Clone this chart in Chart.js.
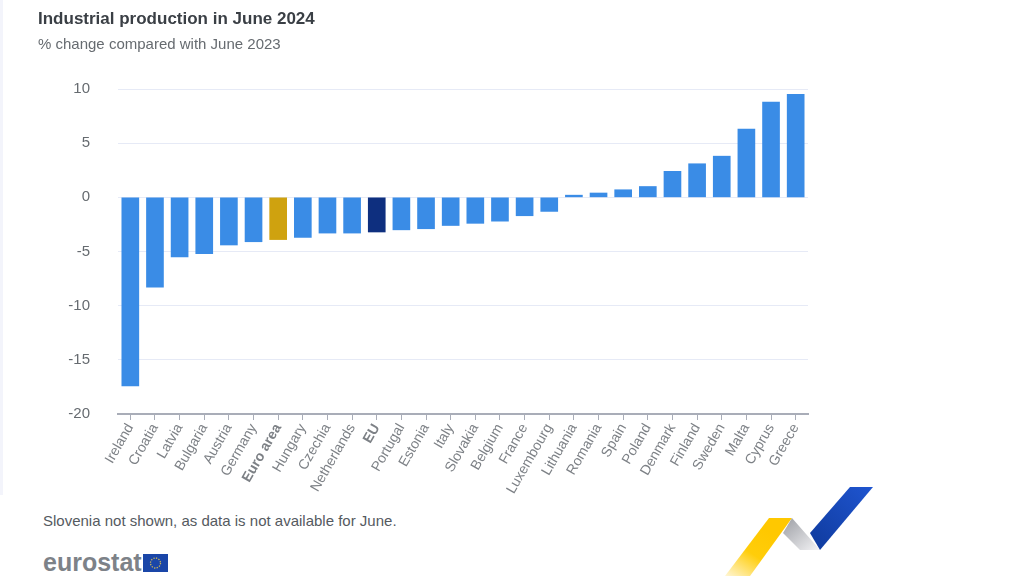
<!DOCTYPE html>
<html>
<head>
<meta charset="utf-8">
<title>Industrial production in June 2024</title>
<script src="https://cdn.jsdelivr.net/npm/chart.js@4"></script>
<style>
  html, body { margin: 0; padding: 0; background: #fff; }
  body { width: 1024px; height: 576px; position: relative; overflow: hidden; font-family: "Liberation Sans", Arial, sans-serif; }
  #chartWrap { position: absolute; left: 0; top: 0; width: 1024px; height: 500px; }
  .txt { position: absolute; white-space: nowrap; }
  #title { left: 38px; top: 9px; font-size: 17px; font-weight: bold; color: #3a3f45; }
  #subtitle { left: 38px; top: 35px; font-size: 15px; color: #666b70; }
  #note { left: 43px; top: 512px; font-size: 15px; color: #555a5f; }
  #brand { left: 43px; top: 548px; font-size: 25px; font-weight: bold; color: #7d8288; }
  #edge { position: absolute; left: 0; top: 0; width: 3px; height: 495px; background: #f3f4fb; }
  #flag { position: absolute; left: 143px; top: 554px; }
  #logo { position: absolute; left: 720px; top: 480px; }
</style>
</head>
<body>
<div id="edge"></div>
<div id="chartWrap"><canvas id="chartProduction"></canvas></div>
<div class="txt" id="title">Industrial production in June 2024</div>
<div class="txt" id="subtitle">% change compared with June 2023</div>
<div class="txt" id="note">Slovenia not shown, as data is not available for June.</div>
<div class="txt" id="brand">eurostat</div>
<svg id="flag" width="25" height="18" viewBox="0 0 25 18">
  <rect width="25" height="18" fill="#1a46a8"/>
  <circle cx="12.5" cy="9" r="5" fill="none" stroke="#c9b45a" stroke-width="1.3" stroke-dasharray="1.3 1.3"/>
</svg>
<svg id="logo" width="160" height="96" viewBox="0 0 160 96">
  <defs>
    <linearGradient id="gy" x1="0" y1="1" x2="0.6" y2="0.2">
      <stop offset="0" stop-color="#fff6d6"/><stop offset="0.55" stop-color="#ffcd0a"/><stop offset="1" stop-color="#ffc800"/>
    </linearGradient>
    <linearGradient id="gg" x1="0" y1="0" x2="1" y2="1">
      <stop offset="0" stop-color="#9c9ea4"/><stop offset="1" stop-color="#f4f4f6"/>
    </linearGradient>
    <linearGradient id="gb" x1="0" y1="1" x2="1" y2="0">
      <stop offset="0" stop-color="#0f3a9c"/><stop offset="1" stop-color="#1f55d0"/>
    </linearGradient>
  </defs>
  <polygon points="5,96 49,38 72,38 30,96" fill="url(#gy)"/>
  <polygon points="72,38 100,70 80,70 63,53" fill="url(#gg)"/>
  <polygon points="90,53 130,7 153,7 100,70" fill="url(#gb)"/>
</svg>
<script>
// Values
const categories = ['Ireland', 'Croatia', 'Latvia', 'Bulgaria', 'Austria', 'Germany', 'Euro area', 'Hungary', 'Czechia', 'Netherlands', 'EU', 'Portugal', 'Estonia', 'Italy', 'Slovakia', 'Belgium', 'France', 'Luxembourg', 'Lithuania', 'Romania', 'Spain', 'Poland', 'Denmark', 'Finland', 'Sweden', 'Malta', 'Cyprus', 'Greece'];
const changeValues = [-17.4, -8.3, -5.5, -5.2, -4.4, -4.1, -3.9, -3.7, -3.3, -3.3, -3.2, -3.0, -2.9, -2.6, -2.4, -2.2, -1.7, -1.3, 0.2, 0.4, 0.7, 1.0, 2.4, 3.1, 3.8, 6.3, 8.8, 9.5];
const yTicks = [10, 5, 0, -5, -10, -15, -20];

const barBlue = '#3a8ce6';
const euroGold = '#cfa20f';
const euNavy = '#0e2f7f';

function barColor(name) {
  if (name === 'Euro area') return euroGold;
  if (name === 'EU') return euNavy;
  return barBlue;
}

const isBold = (name) => name === 'Euro area' || name === 'EU';

new Chart(document.getElementById('chartProduction').getContext('2d'), {
  type: 'bar',
  data: {
    labels: categories,
    datasets: [{
      data: changeValues,
      backgroundColor: categories.map(barColor),
      borderWidth: 0,
      barThickness: 17
    }]
  },
  options: {
    responsive: true,
    maintainAspectRatio: false,
    animation: false,
    layout: { padding: { top: 89, right: 216, left: 0, bottom: 0 } },
    plugins: {
      legend: { display: false },
      tooltip: { enabled: false }
    },
    scales: {
      x: {
        grid: { display: true, drawOnChartArea: false, offset: false, color: '#a9adb8', tickLength: 6 },
        border: { color: '#a9adb8', width: 2 },
        ticks: {
          autoSkip: false,
          maxRotation: 60,
          minRotation: 60,
          color: '#7d8186',
          padding: 1,
          font: (ctx) => ({
            family: 'Liberation Sans',
            size: 14,
            weight: isBold(categories[ctx.index]) ? 'bold' : 'normal'
          })
        },
        afterFit: (scale) => { scale.height = 86; }
      },
      y: {
        min: -20,
        max: 10,
        afterBuildTicks: (scale) => { scale.ticks = yTicks.map(v => ({ value: v })); },
        grid: { color: '#e6eaf6', drawTicks: false },
        border: { display: false },
        ticks: {
          color: '#666b70',
          padding: 28,
          font: { family: 'Liberation Sans', size: 15 }
        },
        afterFit: (scale) => { scale.width = 118; }
      }
    }
  }
});
</script>
</body>
</html>
